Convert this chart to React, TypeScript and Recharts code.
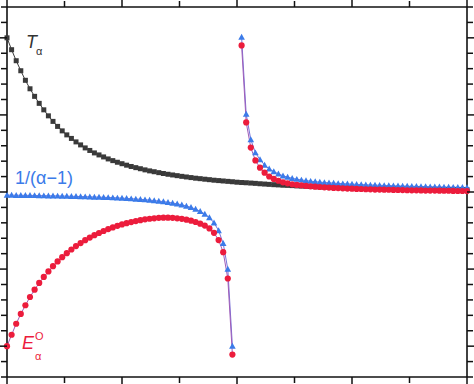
import React from 'react';
import { LineChart, Line, XAxis, YAxis } from 'recharts';

const X = [0, 0.08, 0.16, 0.24, 0.32, 0.4, 0.48, 0.56, 0.64, 0.72, 0.8, 0.88, 0.96, 1.04, 1.12, 1.2, 1.28, 1.36, 1.44, 1.52, 1.6, 1.68, 1.76, 1.84, 1.92, 2, 2.08, 2.16, 2.24, 2.32, 2.4, 2.48, 2.56, 2.64, 2.72, 2.8, 2.88, 2.96, 3.04, 3.12, 3.2, 3.28, 3.36, 3.44, 3.52, 3.6, 3.68, 3.76, 3.84, 3.92, 4, 4.08, 4.16, 4.24, 4.32, 4.4, 4.48, 4.56, 4.64, 4.72, 4.8, 4.88, 4.96, 5.04, 5.12, 5.2, 5.28, 5.36, 5.44, 5.52, 5.6, 5.68, 5.76, 5.84, 5.92, 6, 6.08, 6.16, 6.24, 6.32, 6.4, 6.48, 6.56, 6.64, 6.72, 6.8, 6.88, 6.96, 7.04, 7.12, 7.2, 7.28, 7.36, 7.44, 7.52, 7.6, 7.68, 7.76, 7.84, 7.92, 8];

// T_alpha (dark squares)
const T_ALPHA = [
  2.0, 1.846, 1.703, 1.573, 1.449, 1.339, 1.241, 1.15, 1.066, 0.988,
  0.916, 0.851, 0.793, 0.741, 0.695, 0.65, 0.611, 0.572, 0.539, 0.507,
  0.481, 0.455, 0.429, 0.407, 0.386, 0.367, 0.348, 0.331, 0.316, 0.302,
  0.287, 0.274, 0.263, 0.251, 0.24, 0.23, 0.221, 0.212, 0.203, 0.195,
  0.187, 0.179, 0.173, 0.166, 0.16, 0.153, 0.148, 0.143, 0.138, 0.133,
  0.127, 0.123, 0.12, 0.116, 0.112, 0.107, 0.103, 0.099, 0.095, 0.092,
  0.088, 0.086, 0.083, 0.079, 0.077, 0.074, 0.071, 0.069, 0.066, 0.065,
  0.062, 0.06, 0.058, 0.056, 0.054, 0.053, 0.051, 0.05, 0.048, 0.047,
  0.045, 0.044, 0.043, 0.042, 0.041, 0.039, 0.038, 0.037, 0.036, 0.036,
  0.035, 0.034, 0.033, 0.033, 0.032, 0.031, 0.031, 0.03, 0.03, 0.029,
  0.029,
];

// 1/(alpha-1) (blue triangles)
const INV_ALPHA = [
  -0.04, -0.041, -0.042, -0.043, -0.043, -0.044, -0.045, -0.047, -0.048, -0.049,
  -0.05, -0.051, -0.053, -0.054, -0.056, -0.057, -0.059, -0.061, -0.063, -0.065,
  -0.067, -0.069, -0.071, -0.074, -0.077, -0.08, -0.083, -0.087, -0.091, -0.095,
  -0.1, -0.105, -0.111, -0.118, -0.125, -0.133, -0.143, -0.154, -0.167, -0.182,
  -0.2, -0.222, -0.25, -0.286, -0.333, -0.4, -0.5, -0.667, -1.0, -2.0,
  null,
  2.01, 1.01, 0.68, 0.51, 0.42, 0.35, 0.3, 0.265, 0.235, 0.21,
  0.193, 0.178, 0.166, 0.156, 0.148, 0.14, 0.134, 0.128, 0.123, 0.119,
  0.115, 0.111, 0.108, 0.105, 0.102, 0.099, 0.096, 0.094, 0.091, 0.089,
  0.087, 0.085, 0.083, 0.081, 0.079, 0.077, 0.076, 0.074, 0.073, 0.071,
  0.07, 0.068, 0.067, 0.066, 0.064, 0.063, 0.062, 0.061, 0.06, 0.058,
];

// E_alpha^O (red circles)
const E_ALPHA = [
  -2.0, -1.852, -1.709, -1.582, -1.469, -1.362, -1.267, -1.18, -1.102, -1.031,
  -0.962, -0.901, -0.845, -0.793, -0.746, -0.702, -0.663, -0.625, -0.591, -0.56,
  -0.532, -0.506, -0.481, -0.459, -0.439, -0.421, -0.404, -0.39, -0.377, -0.365,
  -0.355, -0.347, -0.341, -0.335, -0.333, -0.333, -0.335, -0.341, -0.348, -0.359,
  -0.372, -0.389, -0.411, -0.435, -0.472, -0.53, -0.624, -0.78, -1.122, -2.109,
  null,
  1.901, 0.903, 0.576, 0.409, 0.316, 0.251, 0.201, 0.169, 0.146, 0.126,
  0.113, 0.1, 0.092, 0.086, 0.079, 0.074, 0.069, 0.065, 0.061, 0.057,
  0.053, 0.051, 0.048, 0.045, 0.043, 0.04, 0.039, 0.036, 0.035, 0.032,
  0.031, 0.03, 0.029, 0.027, 0.026, 0.025, 0.023, 0.022, 0.022, 0.021,
  0.019, 0.019, 0.018, 0.017, 0.016, 0.016, 0.014, 0.013, 0.013, 0.012,
];

const X_TICKS = [0, 1, 2, 3, 4, 5, 6, 7, 8];
const Y_TICKS = [-2.4, -2.2, -2.0, -1.8, -1.6, -1.4, -1.2, -1.0, -0.8, -0.6, -0.4, -0.2, 0, 0.2, 0.4, 0.6, 0.8, 1.0, 1.2, 1.4, 1.6, 1.8, 2.0, 2.2, 2.4];

const data = X.map((x, i) => ({ x, T: T_ALPHA[i], B: INV_ALPHA[i], R: E_ALPHA[i] }));

const GRAY = '#3a3a3a';
const BLUE = '#3b7be9';
const RED = '#ec1c3c';

const isMajor = (v: number, step: number) => Math.abs(v / step - Math.round(v / step)) < 1e-6;

const mkTick = (orient: string, step: number) => (p: any) => {
  const v = p.payload?.value ?? 0;
  const len = isMajor(v, step) ? 9 : 6;
  let x2 = p.x;
  let y2 = p.y;
  if (orient === 'bottom') y2 = p.y + len;
  if (orient === 'top') y2 = p.y - len;
  if (orient === 'left') x2 = p.x - len;
  if (orient === 'right') x2 = p.x + len;
  return <line key={`t-${orient}-${p.index}`} x1={p.x} y1={p.y} x2={x2} y2={y2} stroke="#111" strokeWidth={1.5} />;
};

const SquareDot = (p: any) => {
  if (p.cy == null || p.value == null) return <g key={`s-${p.index}`} />;
  return <rect key={`s-${p.index}`} x={p.cx - 2.5} y={p.cy - 2.5} width={5} height={5} fill={GRAY} />;
};

const TriDot = (p: any) => {
  if (p.cy == null || p.value == null) return <g key={`tr-${p.index}`} />;
  const s = 3.3;
  const pts = `${p.cx},${p.cy - s} ${p.cx - s},${p.cy + s * 0.8} ${p.cx + s},${p.cy + s * 0.8}`;
  return <polygon key={`tr-${p.index}`} points={pts} fill={BLUE} />;
};

const CircleDot = (p: any) => {
  if (p.cy == null || p.value == null) return <g key={`c-${p.index}`} />;
  return <circle key={`c-${p.index}`} cx={p.cx} cy={p.cy} r={3.1} fill={RED} />;
};

const axisLine = { stroke: '#111', strokeWidth: 1.6 };
const FONT = '"Liberation Sans", Arial, sans-serif';

export default function App() {
  return (
    <div style={{ position: 'absolute', left: 0, top: 0, width: 474, height: 384, background: '#fff' }}>
      <LineChart width={474} height={384} data={data} margin={{ top: 6, right: 6, bottom: 6, left: 6 }}>
        <XAxis xAxisId="b" orientation="bottom" dataKey="x" type="number" domain={[0, 8]} ticks={X_TICKS} interval={0}
          height={1} tickSize={0} tickMargin={0} tickLine={false} axisLine={axisLine} tick={mkTick('bottom', 2)} />
        <XAxis xAxisId="t" orientation="top" dataKey="x" type="number" domain={[0, 8]} ticks={X_TICKS} interval={0}
          height={1} tickSize={0} tickMargin={0} tickLine={false} axisLine={axisLine} tick={mkTick('top', 2)} />
        <YAxis yAxisId="l" orientation="left" type="number" domain={[-2.4, 2.4]} ticks={Y_TICKS} interval={0}
          width={1} tickSize={0} tickMargin={0} tickLine={false} axisLine={axisLine} tick={mkTick('left', 1)} allowDataOverflow />
        <YAxis yAxisId="r" orientation="right" type="number" domain={[-2.4, 2.4]} ticks={Y_TICKS} interval={0}
          width={1} tickSize={0} tickMargin={0} tickLine={false} axisLine={axisLine} tick={mkTick('right', 1)} allowDataOverflow />
        <Line xAxisId="b" yAxisId="l" type="linear" dataKey="T" stroke={GRAY} strokeWidth={1} dot={SquareDot}
          activeDot={false} isAnimationActive={false} connectNulls={false} />
        <Line xAxisId="b" yAxisId="l" type="linear" dataKey="B" stroke="#7a72d8" strokeWidth={1} dot={TriDot}
          activeDot={false} isAnimationActive={false} connectNulls={false} />
        <Line xAxisId="b" yAxisId="l" type="linear" dataKey="R" stroke="#a05cb8" strokeWidth={1} dot={CircleDot}
          activeDot={false} isAnimationActive={false} connectNulls={false} />
      </LineChart>
      <svg width={474} height={384} style={{ position: 'absolute', left: 0, top: 0, pointerEvents: 'none' }}>
        <text x={26} y={48} fontFamily={FONT} fontSize={18} fontStyle="italic" fill="#333">T</text>
        <text x={36} y={55} fontFamily={FONT} fontSize={11} fill="#333">α</text>
        <text x={15} y={184} fontFamily={FONT} fontSize={18} fill={BLUE}>1/(α−1)</text>
        <text x={22} y={349} fontFamily={FONT} fontSize={18} fontStyle="italic" fill={RED}>E</text>
        <text x={35} y={340} fontFamily={FONT} fontSize={11} fill={RED}>O</text>
        <text x={35} y={360} fontFamily={FONT} fontSize={11} fill={RED}>α</text>
      </svg>
    </div>
  );
}
